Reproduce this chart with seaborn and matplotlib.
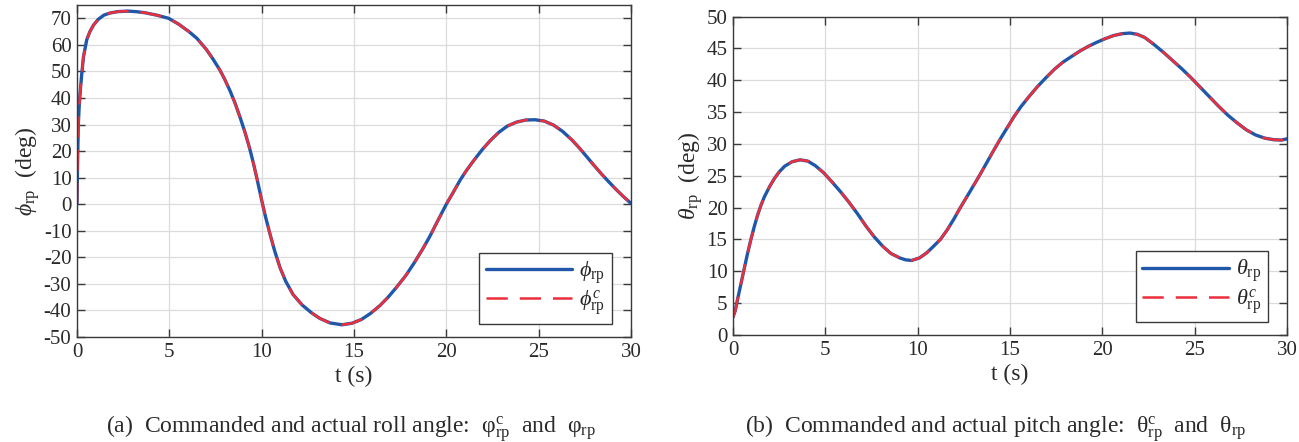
import matplotlib
matplotlib.use("Agg")
import matplotlib.pyplot as plt
import seaborn as sns
import pandas as pd

# ---- data ----
t_phi = [0, 0.03, 0.07, 0.12, 0.17, 0.25, 0.35, 0.53, 0.7, 0.9, 1.15, 1.46, 1.8, 2.2,
         2.75, 3.2, 3.67, 4.3, 4.96, 5.5, 6.06, 6.5, 7.0, 7.35, 7.73, 8.0, 8.28, 8.55,
         8.84, 9.1, 9.35, 9.55, 9.75, 10.0, 10.2, 10.45, 10.7, 11.0, 11.3, 11.7, 12.2,
         12.7, 13.15, 13.7, 14.35, 14.9, 15.4, 15.9, 16.4, 16.85, 17.3, 17.8, 18.25,
         18.7, 19.1, 19.45, 20.0, 20.4, 20.75, 21.1, 21.5, 21.95, 22.4, 22.85, 23.3,
         23.8, 24.3, 24.8, 25.3, 25.8, 26.3, 26.8, 27.2, 27.6, 28.0, 28.4, 28.8, 29.2,
         29.6, 30.0]
phi_act = [0, 15, 30, 37, 42, 48.5, 55.5, 62, 65, 67.5, 69.6, 71.2, 72.0, 72.5,
           72.7, 72.5, 72.1, 71.2, 70.0, 67.8, 65.0, 62.4, 58.3, 54.8, 50.6, 47.0, 42.8, 38.2,
           32.5, 27.0, 21.0, 15.5, 9.5, 1.5, -4.5, -11.2, -17.5, -24.0, -29.0, -34.0, -38.0,
           -40.9, -43.0, -44.7, -45.4, -44.8, -43.4, -41.1, -38.2, -35.0, -31.3, -26.9, -22.2,
           -17.1, -12.2, -7.4, 0.0, 4.8, 9.1, 12.8, 16.6, 20.6, 24.1, 27.1, 29.4,
           30.9, 31.7, 31.8, 31.3, 29.8, 27.4, 24.2, 21.2, 17.9, 14.6, 11.4, 8.4, 5.5,
           2.8, 0.3]
phi_cmd = list(phi_act)

t_theta = [0, 0.12, 0.24, 0.42, 0.6, 0.78, 0.97, 1.15, 1.34, 1.52, 1.7, 2.0, 2.25, 2.5,
           2.8, 3.2, 3.63, 4.05, 4.45, 4.9, 5.37, 5.85, 6.29, 6.75, 7.2, 7.65, 8.12, 8.55,
           9.03, 9.35, 9.67, 10.1, 10.49, 10.85, 11.23, 11.6, 11.96, 12.29, 12.85, 13.38,
           13.75, 14.12, 14.5, 14.84, 15.2, 15.58, 16.05, 16.49, 16.95, 17.4, 17.85, 18.32,
           18.8, 19.23, 19.7, 20.14, 20.6, 21.06, 21.5, 21.9, 22.3, 22.8, 23.3, 23.8, 24.3,
           24.8, 25.3, 25.8, 26.3, 26.8, 27.3, 27.8, 28.3, 28.8, 29.3, 29.7, 30.0]
theta_act = [2.8, 3.8, 5.5, 7.9, 10.3, 12.7, 15.0, 17.0, 18.9, 20.4, 21.7, 23.4, 24.6, 25.6,
             26.5, 27.2, 27.5, 27.3, 26.6, 25.5, 24.0, 22.4, 20.8, 19.0, 17.1, 15.4, 13.9, 12.8,
             12.1, 11.8, 11.7, 12.1, 12.9, 13.9, 15.0, 16.5, 18.2, 19.9, 22.6, 25.2,
             27.1, 29.0, 30.9, 32.5, 34.2, 35.8, 37.5, 39.0, 40.4, 41.7, 42.8, 43.7,
             44.6, 45.3, 45.95, 46.5, 47.0, 47.3, 47.4, 47.2, 46.7, 45.6, 44.4, 43.1, 41.8,
             40.4, 38.9, 37.4, 35.9, 34.5, 33.3, 32.2, 31.4, 30.9, 30.65, 30.6, 30.8]
theta_cmd = list(theta_act)

xticks = [0, 5, 10, 15, 20, 25, 30]
phi_yticks = list(range(-50, 80, 10))
theta_yticks = list(range(0, 55, 5))

caption_a = r"(a)  Commanded and actual roll angle:  $\mathrm{φ^c_{rp}}$  and  $\mathrm{φ_{rp}}$"
caption_b = r"(b)  Commanded and actual pitch angle:  $\mathrm{θ^c_{rp}}$  and  $\mathrm{θ_{rp}}$"

# ---- style ----
sns.set_style("ticks")
plt.rcParams["font.family"] = ["Liberation Serif", "DejaVu Serif"]
plt.rcParams["mathtext.fontset"] = "custom"
plt.rcParams["mathtext.rm"] = "Liberation Serif"
plt.rcParams["mathtext.it"] = "Liberation Serif:italic"
plt.rcParams["mathtext.bf"] = "Liberation Serif:bold"
plt.rcParams["axes.unicode_minus"] = False

BLUE = "#2157a8"
RED = "#ec2f3b"
EDGE = "#3a3a3a"
GRID = "#dcdcdc"
TXT = "#2a2a2a"

fig = plt.figure(figsize=(12.99, 4.42), dpi=100)
W, H = 1299.0, 442.0
axA = fig.add_axes([77 / W, (H - 337) / H, (631 - 77) / W, (337 - 5) / H])
axB = fig.add_axes([733 / W, (H - 335) / H, (1287 - 733) / W, (335 - 16.5) / H])


def draw(ax, t, act, cmd, sym, ylim, yticks):
    df_a = pd.DataFrame({"t": t, "v": act})
    df_c = pd.DataFrame({"t": t, "v": cmd})
    sns.lineplot(data=df_a, x="t", y="v", ax=ax, color=BLUE, lw=2.4,
                 label=r"$%s_{\mathrm{rp}}$" % sym, sort=False)
    sns.lineplot(data=df_c, x="t", y="v", ax=ax, color=RED, lw=1.8,
                 label=r"$%s^{c}_{\mathrm{rp}}$" % sym, sort=False)
    ax.lines[1].set_dashes((8.5, 4.8))
    ax.set_xlim(0, 30)
    ax.set_ylim(*ylim)
    ax.set_xticks(xticks)
    ax.set_yticks(yticks)
    ax.grid(True, color=GRID, lw=0.9)
    ax.set_axisbelow(True)
    ax.tick_params(direction="in", top=True, right=True, length=6, width=1,
                   color=EDGE, labelsize=15, labelcolor=TXT, pad=4)
    for s in ax.spines.values():
        s.set_color(EDGE)
        s.set_linewidth(1.0)
    ax.set_xlabel("t (s)", fontsize=17, color=TXT, labelpad=3)
    ax.set_ylabel(r"$%s_{\mathrm{rp}}$  (deg)" % sym, fontsize=17, color=TXT, labelpad=1)
    leg = ax.legend(loc="lower right", bbox_to_anchor=(0.965, 0.04), fontsize=16,
                    frameon=True, fancybox=False, handlelength=3.9, borderpad=0.3,
                    labelspacing=0.12, handletextpad=0.3, borderaxespad=0.0)
    leg.get_frame().set_edgecolor(EDGE)
    leg.get_frame().set_linewidth(1.0)
    leg.get_frame().set_alpha(1.0)


draw(axA, t_phi, phi_act, phi_cmd, r"\phi", (-50, 75), phi_yticks)
draw(axB, t_theta, theta_act, theta_cmd, r"\theta", (0, 50), theta_yticks)

fig.text(351 / W, (H - 428) / H, caption_a, ha="center", va="center", fontsize=17, color=TXT)
fig.text(996 / W, (H - 428) / H, caption_b, ha="center", va="center", fontsize=17, color=TXT)

fig.savefig("out.png", dpi=100)
